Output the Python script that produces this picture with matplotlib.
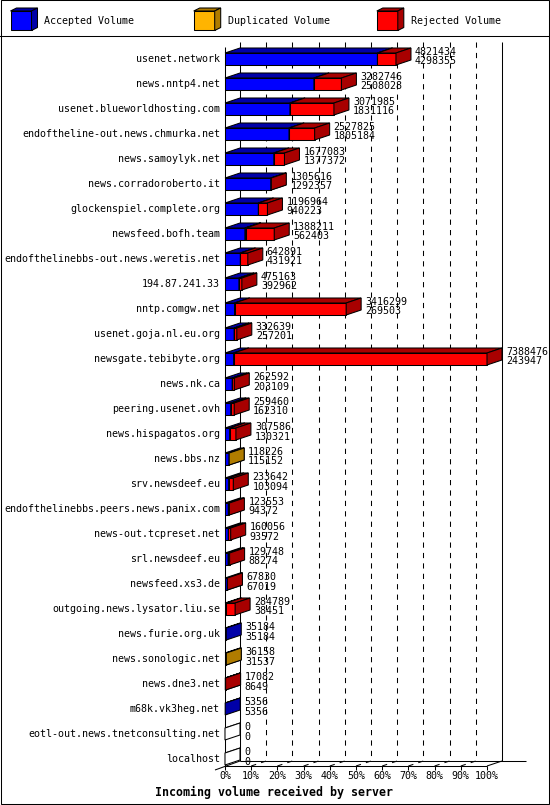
import matplotlib
matplotlib.use("Agg")
import matplotlib.pyplot as plt
from matplotlib.patches import Polygon, Rectangle

# Data
servers = [
    "usenet.network", "news.nntp4.net", "usenet.blueworldhosting.com",
    "endoftheline-out.news.chmurka.net", "news.samoylyk.net",
    "news.corradoroberto.it", "glockenspiel.complete.org", "newsfeed.bofh.team",
    "endofthelinebbs-out.news.weretis.net", "194.87.241.33", "nntp.comgw.net",
    "usenet.goja.nl.eu.org", "newsgate.tebibyte.org", "news.nk.ca",
    "peering.usenet.ovh", "news.hispagatos.org", "news.bbs.nz", "srv.newsdeef.eu",
    "endofthelinebbs.peers.news.panix.com", "news-out.tcpreset.net",
    "srl.newsdeef.eu", "newsfeed.xs3.de", "outgoing.news.lysator.liu.se",
    "news.furie.org.uk", "news.sonologic.net", "news.dne3.net", "m68k.vk3heg.net",
    "eotl-out.news.tnetconsulting.net", "localhost",
]
total_volume = [
    4821434, 3282746, 3071985, 2527825, 1677083, 1305616, 1196964, 1388211,
    642891, 475163, 3416299, 332639, 7388476, 262592, 259460, 307586, 118226,
    233642, 123553, 160056, 129748, 67830, 284789, 35184, 36158, 17082, 5356, 0, 0,
]
accepted_volume = [
    4298355, 2508028, 1831116, 1805184, 1377372, 1292357, 940223, 562403,
    431921, 392962, 269503, 257201, 243947, 203109, 162310, 130321, 115152,
    103094, 94372, 93572, 88274, 67019, 38451, 35184, 31537, 8649, 5356, 0, 0,
]
# duplicated volume (estimated where only a sliver is visible)
duplicated_volume = [
    0, 0, 0, 0, 0, 0, 0, 25000, 0, 0, 0, 0, 0, 0, 0, 0, 3074,
    0, 0, 0, 0, 0, 0, 0, 4621, 0, 0, 0, 0,
]
rejected_volume = [t - a - d for t, a, d in
                   zip(total_volume, accepted_volume, duplicated_volume)]
pct_ticks = [0, 10, 20, 30, 40, 50, 60, 70, 80, 90, 100]

series_names = ["Accepted Volume", "Duplicated Volume", "Rejected Volume"]
front_colors = ["#0000FF", "#FFB400", "#FF0000"]
dark_colors = ["#0000A8", "#B07C00", "#A80000"]

FONT = "DejaVu Sans Mono"
LW = 0.75

W, H = 550, 805
fig = plt.figure(figsize=(W / 100, H / 100), dpi=100)
fig.patch.set_facecolor("white")

# overlay in pixel units for frame and legend
frame = fig.add_axes([0, 0, 1, 1])
frame.set_xlim(0, W)
frame.set_ylim(H, 0)
frame.axis("off")
frame.add_patch(Rectangle((0.5, 0.5), W - 1.5, H - 1.5, fill=False,
                          edgecolor="black", lw=LW))
frame.plot([0, W], [36.5, 36.5], color="black", lw=LW)

legend_x = [10.5, 193.7, 376.8]
for lx, name, fc, dc in zip(legend_x, series_names, front_colors, dark_colors):
    x0, x1, y0, y1, ddx, ddy = lx, lx + 21, 11, 30.5, 6, -3
    frame.add_patch(Polygon([(x0, y0), (x1, y0), (x1, y1), (x0, y1)],
                            facecolor=fc, edgecolor="black", lw=LW))
    frame.add_patch(Polygon([(x0, y0), (x1, y0), (x1 + ddx, y0 + ddy),
                             (x0 + ddx, y0 + ddy)],
                            facecolor=dc, edgecolor="black", lw=LW))
    frame.add_patch(Polygon([(x1, y0), (x1 + ddx, y0 + ddy),
                             (x1 + ddx, y1 + ddy), (x1, y1)],
                            facecolor=dc, edgecolor="black", lw=LW))
    frame.text(lx + 34, 21.5, name, family=FONT, fontsize=7.2,
               ha="left", va="center")

frame.text(274, 792, "Incoming volume received by server", family=FONT,
           fontsize=8.4, fontweight="bold", ha="center", va="center")

# data axes: x = volume, y = server index
n = len(servers)
vmax = max(total_volume)
row_px = 25.0
top_px = 59 - row_px / 2
bot_px = top_px + n * row_px
ax = fig.add_axes([225 / W, (H - bot_px) / H, 262 / W, (bot_px - top_px) / H])
ax.set_xlim(0, vmax)
ax.set_ylim(n - 0.5, -0.5)
ax.axis("off")

# 3D depth expressed in data units
dx = 15 * vmax / 262
dy = -5 / row_px
px_x = vmax / 262
px_y = 1 / row_px
half = 6 / row_px
floor = (n - 1) + 7 / row_px
wall_top = -0.5 + 0.5 / row_px

line_kw = dict(color="black", lw=LW, clip_on=False, solid_capstyle="butt")
dash_kw = dict(color="black", lw=LW, clip_on=False, linestyle=(0, (5, 5)))

# walls and floor
ax.plot([0, 0], [wall_top, floor], zorder=5, **line_kw)
ax.plot([dx, dx], [wall_top + dy, floor + dy], zorder=1, **line_kw)
ax.plot([vmax + dx, vmax + dx], [wall_top + dy, floor + dy], zorder=1, **line_kw)
ax.plot([0, vmax], [floor, floor], zorder=5, **line_kw)
ax.plot([dx, vmax + dx + 24 * px_x], [floor + dy, floor + dy], zorder=1, **line_kw)
ax.plot([vmax, vmax + dx], [floor, floor + dy], zorder=5, **line_kw)
ax.plot([-10 * px_x, dx], [floor + 4 * px_y, floor + dy], zorder=5, **line_kw)

for p in pct_ticks:
    x = vmax * p / 100
    if 0 < p < 100:
        ax.plot([x + dx, x + dx], [wall_top + dy, floor + dy], zorder=1, **dash_kw)
        ax.plot([x, x + dx], [floor, floor + dy], zorder=1, **dash_kw)
    ax.plot([x, x], [floor, floor + 4 * px_y], zorder=5, **line_kw)
    ax.text(x, floor + 10 * px_y, f"{p}%", family=FONT, fontsize=7.2,
            ha="center", va="center", clip_on=False)

# stacked 3D bars
z = 10
for i, name in enumerate(servers):
    segs = [accepted_volume[i], duplicated_volume[i], rejected_volume[i]]
    top, bottom = i - half, i + half
    left = 0
    drawn = [(v, fc, dc) for v, fc, dc in zip(segs, front_colors, dark_colors) if v > 0]
    if not drawn:
        drawn = [(0, "white", "white")]
    for v, fc, dc in drawn:
        right = left + v
        ax.add_patch(Polygon([(left, top), (right, top), (right, bottom), (left, bottom)],
                             facecolor=fc, edgecolor="black", lw=LW,
                             clip_on=False, zorder=z))
        ax.add_patch(Polygon([(left, top), (right, top), (right + dx, top + dy),
                              (left + dx, top + dy)],
                             facecolor=dc, edgecolor="black", lw=LW,
                             clip_on=False, zorder=z + 1))
        ax.add_patch(Polygon([(right, top), (right + dx, top + dy),
                              (right + dx, bottom + dy), (right, bottom)],
                             facecolor=dc, edgecolor="black", lw=LW,
                             clip_on=False, zorder=z + 2))
        z += 3
        left = right

    ax.annotate(name, xy=(0, i), xytext=(-5 * 0.72, 0), textcoords="offset points",
                family=FONT, fontsize=7.2, ha="right", va="center",
                annotation_clip=False)
    ax.annotate(str(total_volume[i]), xy=(total_volume[i], i),
                xytext=(19 * 0.72, 7 * 0.72), textcoords="offset points",
                family=FONT, fontsize=7.2, ha="left", va="center",
                annotation_clip=False, zorder=z)
    ax.annotate(str(accepted_volume[i]), xy=(total_volume[i], i),
                xytext=(19 * 0.72, -2.5 * 0.72), textcoords="offset points",
                family=FONT, fontsize=7.2, ha="left", va="center",
                annotation_clip=False, zorder=z)

fig.savefig("out.png", dpi=100, facecolor="white")
